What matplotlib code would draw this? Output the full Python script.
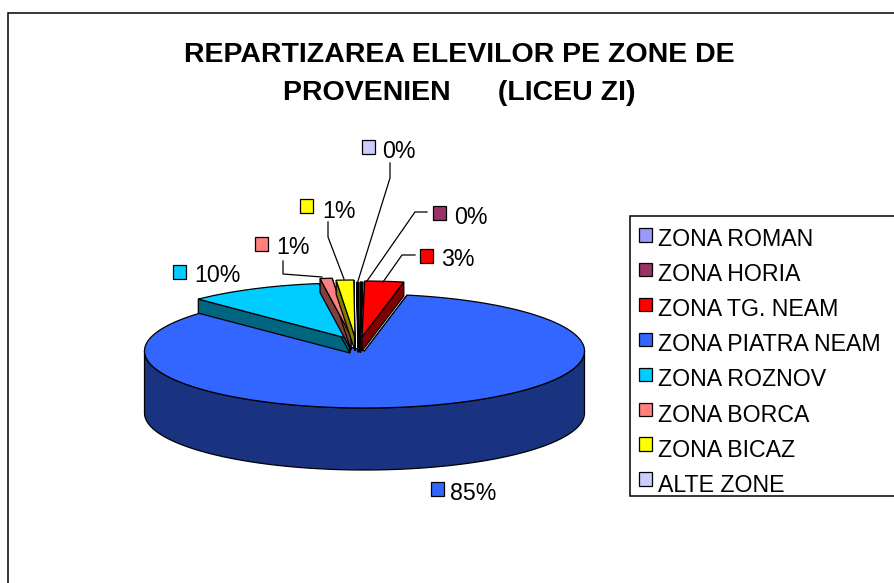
import numpy as np
import matplotlib
matplotlib.use('Agg')
import matplotlib.pyplot as plt
from matplotlib.patches import Polygon, Rectangle

plt.rcParams['font.family'] = ['Liberation Sans', 'DejaVu Sans']

# Data
zones = ['ZONA ROMAN', 'ZONA HORIA', 'ZONA TG. NEAM', 'ZONA PIATRA NEAM',
         'ZONA ROZNOV', 'ZONA BORCA', 'ZONA BICAZ', 'ALTE ZONE']
percent = [0.1, 0.1, 2.9, 84.51, 10.1, 0.9, 1.3, 0.09]
title = 'REPARTIZAREA ELEVILOR PE ZONE DE\nPROVENIEN      (LICEU ZI)'

colors = ['#9999FF', '#993366', '#FF0000', '#3366FF',
          '#00CCFF', '#FF8080', '#FFFF00', '#CCCCFF']

# Layout, in pixels of the 894x583 picture
centers = [(360, 338), (360, 338), (362, 337), (364.5, 351),
           (350, 339), (351, 336), (355, 337), (358, 338)]
radii = [(216, 56), (216, 56), (216, 56), (220, 57),
         (216, 56), (216, 58), (216, 57), (216, 56)]
depths = [14, 14, 14, 62, 14, 14, 14, 14]
draw_order = [3, 4, 5, 6, 7, 0, 1, 2]

label_pos = [None, (454, 218), (441, 260), (450, 493),
             (194, 276), (276, 248), (322, 211), (382, 152)]
swatch_pos = [None, (433, 206), (420, 249), (431, 482),
              (173, 265), (255, 237), (300, 199), (362, 140)]
leaders = [None,
           [(427, 212), (415, 212), (367, 281)],
           [(415, 255), (402, 255), (383, 282)],
           None,
           None,
           [(283, 261), (283, 274), (322, 277)],
           [(328, 222), (328, 237), (344, 279)],
           [(390, 163), (390, 178), (358, 281)]]

LW = 0.9


def darker(c):
    return tuple(v * 0.5 for v in matplotlib.colors.to_rgb(c))


def arc(center, radius, a1, a2):
    # angles go clockwise from the top of the pie
    t = np.radians(np.linspace(a1, a2, max(int(abs(a2 - a1) * 2), 2)))
    return np.column_stack([center[0] + radius[0] * np.sin(t),
                            center[1] - radius[1] * np.cos(t)])


def draw_slice(ax, i, a1, a2):
    c, r, d = centers[i], radii[i], depths[i]
    shade = darker(colors[i])
    apex = np.array(c, dtype=float)
    drop = np.array([0, d])

    # radial faces
    for a in (a1, a2):
        p = arc(c, r, a, a + 0.01)[0]
        ax.add_patch(Polygon([apex, p, p + drop, apex + drop], closed=True,
                             fc=shade, ec='black', lw=LW))

    # outer wall, only the part turned to the viewer
    lo, hi = max(a1, 90), min(a2, 270)
    if hi > lo:
        top = arc(c, r, lo, hi)
        ax.add_patch(Polygon(np.vstack([top, (top + drop)[::-1]]), closed=True,
                             fc=shade, ec='black', lw=LW))

    pts = np.vstack([apex, arc(c, r, a1, a2)])
    ax.add_patch(Polygon(pts, closed=True, fc=colors[i], ec='black', lw=LW))


fig = plt.figure(figsize=(8.94, 5.83), dpi=100)
ax = fig.add_axes([0, 0, 1, 1])
ax.set_xlim(0, 894)
ax.set_ylim(583, 0)
ax.axis('off')

# outer chart frame runs off the picture on the right and at the bottom
ax.add_patch(Rectangle((7.5, 12.5), 900, 600, fc='white', ec='black', lw=1.1))

ax.text(459, 74, title, ha='center', va='center', fontsize=20.5,
        fontweight='bold', linespacing=1.55)

edges = np.cumsum([0] + percent) / sum(percent) * 360
for i in draw_order:
    draw_slice(ax, i, edges[i], edges[i + 1])

for i, zone in enumerate(zones):
    if label_pos[i] is not None:
        ax.text(label_pos[i][0], label_pos[i][1], f'{percent[i]:.0f}%',
                ha='left', va='center', fontsize=16.7)
        ax.add_patch(Rectangle(swatch_pos[i], 13, 13.5, fc=colors[i],
                               ec='black', lw=LW))
    if leaders[i] is not None:
        xs, ys = zip(*leaders[i])
        ax.plot(xs, ys, color='black', lw=LW, solid_joinstyle='miter')

# legend box, cut by the right edge like in the picture
ax.add_patch(Rectangle((629.5, 215.5), 300, 280, fc='white', ec='black', lw=1.1))
for i, zone in enumerate(zones):
    y = 235 + i * 34.9
    ax.add_patch(Rectangle((638.5, y - 7), 13, 13.5, fc=colors[i], ec='black', lw=LW))
    ax.text(658.5, y + 4.5 + i * 0.2, zone, ha='left', va='center', fontsize=16.7)

fig.savefig('out.png', dpi=100)
